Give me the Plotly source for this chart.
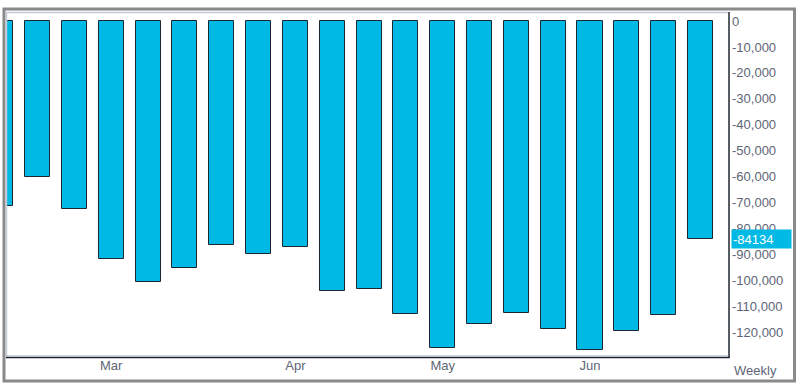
import plotly.graph_objects as go

# ---- data ----
week_dates = ["2018-02-09", "2018-02-16", "2018-02-23", "2018-03-02", "2018-03-09",
              "2018-03-16", "2018-03-23", "2018-03-30", "2018-04-06", "2018-04-13",
              "2018-04-20", "2018-04-27", "2018-05-04", "2018-05-11", "2018-05-18",
              "2018-05-25", "2018-06-01", "2018-06-08", "2018-06-15", "2018-06-22"]
net_positions = [-71500, -60200, -72400, -91800, -100700, -95300, -86400, -90000,
                 -87200, -104200, -103200, -113100, -126100, -116900, -112700,
                 -118800, -126800, -119400, -113400, -84134]
month_tick_dates = ["2018-03-02", "2018-04-06", "2018-05-04", "2018-06-01"]
month_tick_labels = ["Mar", "Apr", "May", "Jun"]
y_tick_values = [0, -10000, -20000, -30000, -40000, -50000, -60000, -70000,
                 -80000, -90000, -100000, -110000, -120000]
y_tick_labels = [f"{v:,}" for v in y_tick_values]
last_value = net_positions[-1]
period_label = "Weekly"

BAR = "#00b9e4"
TXT = "#5e6576"
FONT = "Liberation Sans, Arial, sans-serif"

fig = go.Figure()
fig.add_trace(go.Bar(
    x=week_dates, y=net_positions,
    width=4.76 * 86400000,
    marker=dict(color=BAR, line=dict(color="#1e2630", width=1)),
    hoverinfo="skip",
))

W, H = 802, 392
L, R, T, B = 6, 74, 12, 36
pw, ph = W - L - R, H - T - B

def px(x):
    return (x - L) / pw

def py(y):
    return (H - B - y) / ph

fig.update_layout(
    width=W, height=H,
    margin=dict(l=L, r=R, t=T, b=B),
    paper_bgcolor="white", plot_bgcolor="white",
    showlegend=False,
    bargap=0,
    font=dict(family=FONT, size=13, color=TXT),
    xaxis=dict(
        type="date",
        range=["2018-02-10 00:00", "2018-06-27 05:30"],
        tickvals=month_tick_dates, ticktext=month_tick_labels,
        showgrid=False, zeroline=False, showline=False, ticks="",
        tickfont=dict(size=13, color=TXT),
    ),
    yaxis=dict(
        side="right",
        range=[-129200, 3500],
        tickvals=y_tick_values, ticktext=y_tick_labels,
        showgrid=False, zeroline=False, showline=False, ticks="",
        ticklabelstandoff=3,
        tickfont=dict(size=13, color=TXT),
    ),
    shapes=[
        # outer frame
        dict(type="rect", xref="paper", yref="paper",
             x0=px(4), x1=px(794.5), y0=py(381), y1=py(9),
             line=dict(color="#8a8a8a", width=3)),
        # plot-area edges: light top/left, dark right/bottom
        dict(type="line", xref="paper", yref="paper",
             x0=px(6), x1=px(728.5), y0=py(12.5), y1=py(12.5),
             line=dict(color="#c4cad8", width=1.5)),
        dict(type="line", xref="paper", yref="paper",
             x0=px(6.5), x1=px(6.5), y0=py(12), y1=py(357),
             line=dict(color="#c4cad8", width=1.5)),
        dict(type="line", xref="paper", yref="paper",
             x0=px(729), x1=px(729), y0=py(12), y1=py(358),
             line=dict(color="#1e2430", width=1.5)),
        dict(type="line", xref="paper", yref="paper",
             x0=px(6), x1=px(729.5), y0=py(357.5), y1=py(357.5),
             line=dict(color="#1e2430", width=1.5)),
        dict(type="line", xref="paper", yref="paper",
             x0=px(6), x1=px(728), y0=py(356), y1=py(356),
             line=dict(color="#a8b0c0", width=1)),
    ],
    annotations=[
        dict(xref="paper", yref="y", x=px(731), y=last_value,
             xanchor="left", yanchor="middle",
             text=str(last_value), showarrow=False,
             bgcolor=BAR, font=dict(color="white", size=13, family=FONT),
             width=57, height=16, align="left", borderpad=1),
        dict(xref="paper", yref="paper", x=px(755), y=py(370.5),
             xanchor="center", yanchor="middle",
             text=period_label, showarrow=False,
             font=dict(color=TXT, size=13, family=FONT)),
    ],
)

fig.write_html(
    "out.html",
    config={"displayModeBar": False},
    post_script="document.body.style.margin='0';document.body.style.padding='0';",
)
